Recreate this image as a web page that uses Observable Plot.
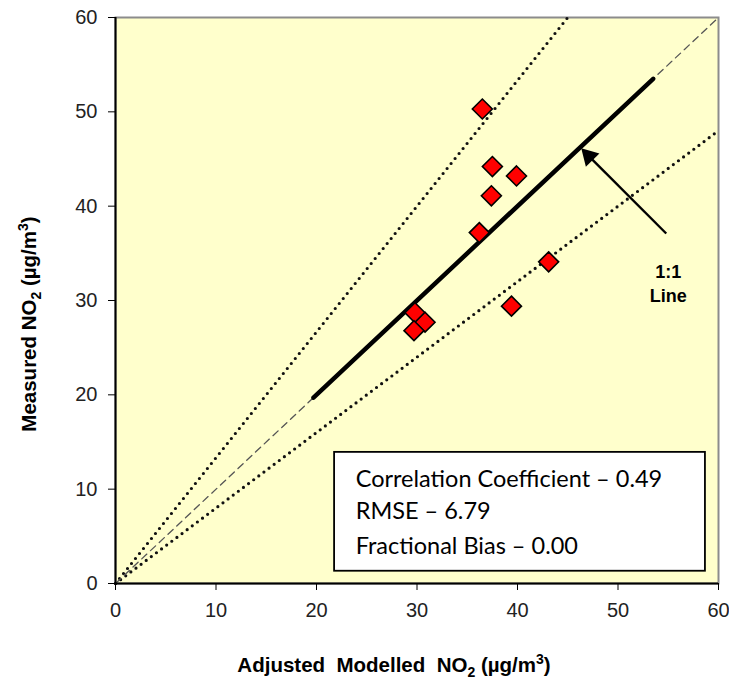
<!DOCTYPE html>
<html>
<head>
<meta charset="utf-8">
<script src="https://cdn.jsdelivr.net/npm/d3@7"></script>
<script src="https://cdn.jsdelivr.net/npm/@observablehq/plot@0.6"></script>
<style>
  html, body { margin: 0; padding: 0; background: #ffffff; }
  #chart svg { display: block; }
</style>
</head>
<body>
<div id="chart"></div>
<script>
// Adjusted modelled NO2 (x) vs measured NO2 (y), µg/m³
const modelled = [36.5, 37.5, 39.9, 37.4, 36.2, 43.1, 39.4, 29.8, 30.8, 29.7];
const measured = [50.3, 44.2, 43.2, 41.1, 37.2, 34.1, 29.4, 28.7, 27.7, 26.8];

const xTicks = [0, 10, 20, 30, 40, 50, 60];
const yTicks = [0, 10, 20, 30, 40, 50, 60];

// Reference lines
const oneToOneX = [0, 60];
const oneToOneY = [0, 60];
const boldLineX = [19.7, 53.5];
const boldLineY = [19.7, 53.5];
const upperX = [0, 45];      // measured = modelled / 0.75
const upperY = [0, 60];
const lowerX = [0, 60];      // measured = 0.8 × modelled
const lowerY = [0, 48];

// Annotation: arrow and label
const arrowTail = [54.8, 37.1];
const arrowBody = [47.1, 45.3];
const arrowLabels = ["1:1", "Line"];
const arrowLabelX = [55.0, 55.0];
const arrowLabelY = [33.0, 30.5];

// Statistics box
const statsLines = ["Correlation Coefficient \u2013 0.49", "RMSE \u2013 6.79", "Fractional Bias \u2013 0.00"];
const statsY = [11.0, 7.6, 3.9];
const statsBox = {x1: 21.8, x2: 58.7, y1: 1.3, y2: 13.9};

const points = modelled.map((m, i) => ({x: m, y: measured[i]}));
const mkLine = (xs, ys) => xs.map((x, i) => ({x, y: ys[i]}));

const FONT = "Arial, 'Liberation Sans', Helvetica, sans-serif";
const W = 729, H = 680;

const plot = Plot.plot({
  width: W,
  height: H,
  marginLeft: 115,
  marginRight: 11,
  marginTop: 17,
  marginBottom: 97,
  style: {background: "#ffffff", fontFamily: FONT, fontSize: "20px"},
  x: {domain: [0, 60], label: null},
  y: {domain: [0, 60], label: null},
  marks: [
    Plot.frame({fill: "#FFFFCC", stroke: "#8c8c8c", strokeWidth: 2}),
    Plot.line(mkLine(upperX, upperY), {x: "x", y: "y", stroke: "#111", strokeWidth: 3.2, strokeDasharray: "0,6.4", strokeLinecap: "round"}),
    Plot.line(mkLine(lowerX, lowerY), {x: "x", y: "y", stroke: "#111", strokeWidth: 3.2, strokeDasharray: "0,6.4", strokeLinecap: "round"}),
    Plot.line(mkLine(oneToOneX, oneToOneY), {x: "x", y: "y", stroke: "#555", strokeWidth: 1.3, strokeDasharray: "7,5"}),
    Plot.line(mkLine(boldLineX, boldLineY), {x: "x", y: "y", stroke: "#000", strokeWidth: 4.5}),
    Plot.ruleX([0], {stroke: "#000", strokeWidth: 2}),
    Plot.ruleY([0], {stroke: "#000", strokeWidth: 2}),
    Plot.axisX({ticks: xTicks, tickSize: 7, tickPadding: 12, fontSize: 20, fontFamily: FONT, stroke: "#000", color: "#222", tickFormat: d => String(d)}),
    Plot.axisY({ticks: yTicks, tickSize: 7, tickPadding: 11, fontSize: 20, fontFamily: FONT, stroke: "#000", color: "#222", tickFormat: d => String(d)}),
    Plot.dot(points, {x: "x", y: "y", symbol: "diamond2", r: 9, fill: "#FF0000", stroke: "#000", strokeWidth: 1.6}),
    Plot.link([{x1: arrowTail[0], y1: arrowTail[1], x2: arrowBody[0], y2: arrowBody[1]}], {x1: "x1", y1: "y1", x2: "x2", y2: "y2", stroke: "#000", strokeWidth: 2.4}),
    Plot.dot([{x: arrowBody[0], y: arrowBody[1]}], {x: "x", y: "y", symbol: "triangle", r: 7, fill: "#000", stroke: "none", rotate: -44}),
    Plot.text(arrowLabels, {x: (d, i) => arrowLabelX[i], y: (d, i) => arrowLabelY[i], text: d => d, fontSize: 18, fontWeight: "bold", fontFamily: FONT, fill: "#000", textAnchor: "middle"}),
    Plot.rect([statsBox], {x1: "x1", x2: "x2", y1: "y1", y2: "y2", fill: "#ffffff", stroke: "#000", strokeWidth: 1.8}),
    Plot.text(statsLines, {x: 23.9, y: (d, i) => statsY[i], text: d => d, textAnchor: "start", fontSize: 23.5, fontFamily: "Lato, Carlito, sans-serif", fill: "#000"})
  ]
});

// Axis titles with subscript/superscript
const svg = d3.select(plot);
function title(sel, parts) {
  sel.attr("font-family", FONT).attr("font-size", 20.5).attr("font-weight", "bold").attr("fill", "#000").style("white-space", "pre");
  sel.append("tspan").text(parts[0]);
  sel.append("tspan").attr("font-size", 14).attr("dy", 5).text("2");
  sel.append("tspan").attr("dy", -5).text(" (µg/m");
  sel.append("tspan").attr("font-size", 14).attr("dy", -8).text("3");
  sel.append("tspan").attr("dy", 8).text(")");
}
title(svg.append("text").attr("x", 394).attr("y", 672).attr("text-anchor", "middle"), ["Adjusted  Modelled  NO"]);
title(svg.append("text").attr("transform", "translate(36,324) rotate(-90)").attr("text-anchor", "middle"), ["Measured NO"]);

document.getElementById("chart").appendChild(plot);
</script>
</body>
</html>
